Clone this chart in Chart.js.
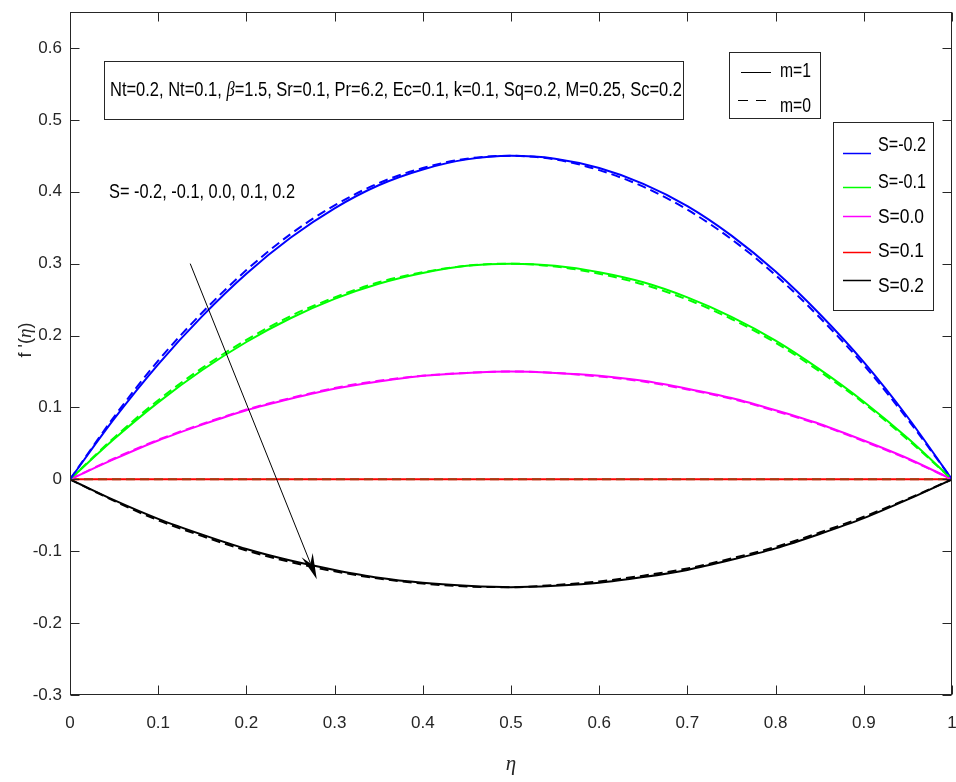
<!DOCTYPE html>
<html>
<head>
<meta charset="utf-8">
<script src="https://cdn.jsdelivr.net/npm/chart.js@4.4.1/dist/chart.umd.min.js"></script>
<style>
  html, body { margin: 0; padding: 0; background: #fff; }
  canvas { display: block; }
</style>
</head>
<body>
<canvas id="chart" width="956" height="782"></canvas>
<script>
// eta grid
const eta = [0, 0.05, 0.1, 0.15, 0.2, 0.25, 0.3, 0.35, 0.4, 0.45, 0.5, 0.55, 0.6, 0.65, 0.7, 0.75, 0.8, 0.85, 0.9, 0.95, 1];

// m = 1 (solid)
const m1_Sm02 = [0, 0.084, 0.160, 0.227, 0.286, 0.336, 0.377, 0.409, 0.431, 0.445, 0.450, 0.446, 0.433, 0.411, 0.380, 0.339, 0.289, 0.230, 0.163, 0.086, 0];
const m1_Sm01 = [0, 0.056, 0.107, 0.152, 0.191, 0.224, 0.251, 0.272, 0.287, 0.297, 0.300, 0.297, 0.288, 0.274, 0.253, 0.226, 0.193, 0.153, 0.108, 0.057, 0];
const m1_S00 = [0, 0.028, 0.054, 0.076, 0.096, 0.112, 0.126, 0.136, 0.144, 0.148, 0.150, 0.148, 0.144, 0.137, 0.126, 0.113, 0.096, 0.077, 0.054, 0.029, 0];
const m1_S01 = [0, 0, 0, 0, 0, 0, 0, 0, 0, 0, 0, 0, 0, 0, 0, 0, 0, 0, 0, 0, 0];
const m1_S02 = [0, -0.029, -0.055, -0.077, -0.097, -0.113, -0.126, -0.137, -0.144, -0.148, -0.150, -0.148, -0.144, -0.136, -0.126, -0.112, -0.096, -0.076, -0.054, -0.028, 0];

// m = 0 (dashed)
const m0_Sm02 = [0, 0.087, 0.165, 0.232, 0.291, 0.341, 0.381, 0.412, 0.433, 0.446, 0.450, 0.445, 0.430, 0.407, 0.375, 0.334, 0.284, 0.225, 0.159, 0.083, 0];
const m0_Sm01 = [0, 0.058, 0.110, 0.155, 0.194, 0.227, 0.253, 0.274, 0.288, 0.297, 0.300, 0.296, 0.286, 0.271, 0.250, 0.223, 0.190, 0.150, 0.106, 0.055, 0];
const m0_S00 = [0, 0.029, 0.055, 0.077, 0.097, 0.113, 0.127, 0.137, 0.144, 0.148, 0.150, 0.148, 0.143, 0.136, 0.125, 0.112, 0.095, 0.076, 0.053, 0.028, 0];
const m0_S01 = [0, 0, 0, 0, 0, 0, 0, 0, 0, 0, 0, 0, 0, 0, 0, 0, 0, 0, 0, 0, 0];
const m0_S02 = [0, -0.030, -0.057, -0.079, -0.099, -0.115, -0.128, -0.138, -0.145, -0.149, -0.150, -0.147, -0.142, -0.134, -0.124, -0.110, -0.094, -0.074, -0.052, -0.027, 0];

const sLabels = ["S=-0.2", "S=-0.1", "S=0.0", "S=0.1", "S=0.2"];
const solidColors = ["#0000ff", "#00ff00", "#ff00ff", "#ff0000", "#000000"];
const dashColors = ["#0000ff", "#00ff00", "#ff00ff", "#a33c10", "#000000"];
const mLabels = ["m=1", "m=0"];

const xTicks = [0, 0.1, 0.2, 0.3, 0.4, 0.5, 0.6, 0.7, 0.8, 0.9, 1];
const yTicks = [-0.3, -0.2, -0.1, 0, 0.1, 0.2, 0.3, 0.4, 0.5, 0.6];

const paramText = ["Nt=0.2, Nt=0.1, ", "\u03B2", "=1.5, Sr=0.1, Pr=6.2, Ec=0.1, k=0.1, Sq=o.2, M=0.25, Sc=0.2"];
const sListText = "S= -0.2, -0.1, 0.0, 0.1, 0.2";
const arrowFrom = { x: 0.1363, y: 0.300 };
const arrowTo = { x: 0.2798, y: -0.139 };

const SANS = '"Liberation Sans", Arial, Helvetica, sans-serif';
const SERIF = '"Liberation Serif", "Times New Roman", serif';
const AXIS = "#262626";

const m1Series = [m1_Sm02, m1_Sm01, m1_S00, m1_S01, m1_S02];
const m0Series = [m0_Sm02, m0_Sm01, m0_S00, m0_S01, m0_S02];

const toPts = (arr) => arr.map((v, i) => ({ x: eta[i], y: v }));

const datasets = [];
m0Series.forEach((s, i) => {
  datasets.push({
    label: sLabels[i] + " m=0",
    data: toPts(s),
    borderColor: dashColors[i],
    borderWidth: 2,
    borderDash: [9, 5],
    pointRadius: 0,
    cubicInterpolationMode: "monotone",
    order: 0,
  });
});
m1Series.forEach((s, i) => {
  datasets.push({
    label: sLabels[i] + " m=1",
    data: toPts(s),
    borderColor: solidColors[i],
    borderWidth: 2,
    pointRadius: 0,
    cubicInterpolationMode: "monotone",
    order: 1,
  });
});

// text with mixed fonts squeezed to a target width
function fitText(ctx, parts, x, y, width) {
  let total = 0;
  parts.forEach((p) => {
    ctx.font = p.font;
    p.w = ctx.measureText(p.t).width;
    total += p.w;
  });
  const k = width ? width / total : 1;
  ctx.save();
  ctx.translate(x, y);
  ctx.scale(k, 1);
  ctx.textAlign = "left";
  ctx.textBaseline = "alphabetic";
  ctx.fillStyle = "#000";
  let cx = 0;
  parts.forEach((p) => {
    ctx.font = p.font;
    ctx.fillText(p.t, cx, 0);
    cx += p.w;
  });
  ctx.restore();
}

function rectBox(ctx, x1, y1, x2, y2) {
  ctx.save();
  ctx.fillStyle = "#fff";
  ctx.fillRect(x1, y1, x2 - x1, y2 - y1);
  ctx.strokeStyle = "#262626";
  ctx.lineWidth = 1;
  ctx.strokeRect(Math.round(x1) + 0.5, Math.round(y1) + 0.5, Math.round(x2 - x1), Math.round(y2 - y1));
  ctx.restore();
}

function seg(ctx, x1, y1, x2, y2, color, dash) {
  ctx.save();
  ctx.strokeStyle = color;
  ctx.lineWidth = 1;
  ctx.setLineDash(dash || []);
  ctx.beginPath();
  ctx.moveTo(x1, y1);
  ctx.lineTo(x2, y2);
  ctx.stroke();
  ctx.restore();
}

const decor = {
  id: "decor",
  afterDraw(chart) {
    const ctx = chart.ctx;
    const a = chart.chartArea;
    const xs = chart.scales.x;
    const ys = chart.scales.y;

    // axes box
    ctx.save();
    ctx.strokeStyle = AXIS;
    ctx.lineWidth = 1;
    const L = Math.round(a.left) + 0.5, R = Math.round(a.right) - 0.5;
    const T = Math.round(a.top) + 0.5, B = Math.round(a.bottom) - 0.5;
    ctx.strokeRect(L, T, R - L, B - T);

    // inward ticks
    const tl = 9;
    ctx.beginPath();
    xTicks.forEach((v) => {
      const px = Math.round(xs.getPixelForValue(v)) + 0.5;
      ctx.moveTo(px, B); ctx.lineTo(px, B - tl);
      ctx.moveTo(px, T); ctx.lineTo(px, T + tl);
    });
    yTicks.forEach((v) => {
      const py = Math.round(ys.getPixelForValue(v)) + 0.5;
      ctx.moveTo(L, py); ctx.lineTo(L + tl, py);
      ctx.moveTo(R, py); ctx.lineTo(R - tl, py);
    });
    ctx.stroke();
    ctx.restore();

    // axis titles
    ctx.save();
    ctx.fillStyle = AXIS;
    ctx.translate(26, 340);
    ctx.rotate(-Math.PI / 2);
    const yParts = [
      { t: "f '(", font: "18px " + SANS },
      { t: "\u03B7", font: "italic 19px " + SERIF },
      { t: ")", font: "18px " + SANS },
    ];
    let tw = 0;
    yParts.forEach((p) => { ctx.font = p.font; p.w = ctx.measureText(p.t).width; tw += p.w; });
    let cx = -tw / 2;
    ctx.textBaseline = "middle";
    yParts.forEach((p) => { ctx.font = p.font; ctx.fillText(p.t, cx, 0); cx += p.w; });
    ctx.restore();

    ctx.save();
    ctx.fillStyle = AXIS;
    ctx.font = "italic 21px " + SERIF;
    ctx.textAlign = "center";
    ctx.textBaseline = "middle";
    ctx.fillText("\u03B7", (a.left + a.right) / 2, 764);
    ctx.restore();

    // parameter text box
    rectBox(ctx, 104, 61, 683, 119);
    fitText(ctx, [
      { t: paramText[0], font: "20px " + SANS },
      { t: paramText[1], font: "italic 20px " + SERIF },
      { t: paramText[2], font: "20px " + SANS },
    ], 110, 96, 572);

    // S list text
    fitText(ctx, [{ t: sListText, font: "21px " + SANS }], 109, 198, 186);

    // arrow
    const ax1 = xs.getPixelForValue(arrowFrom.x), ay1 = ys.getPixelForValue(arrowFrom.y);
    const ax2 = xs.getPixelForValue(arrowTo.x), ay2 = ys.getPixelForValue(arrowTo.y);
    const dx = ax2 - ax1, dy = ay2 - ay1, len = Math.hypot(dx, dy);
    const ux = dx / len, uy = dy / len, nx = -uy, ny = ux;
    const hl = 26, hw = 6, notch = 17;
    seg(ctx, ax1, ay1, ax2 - ux * notch, ay2 - uy * notch, "#000");
    ctx.save();
    ctx.fillStyle = "#000";
    ctx.beginPath();
    ctx.moveTo(ax2, ay2);
    ctx.lineTo(ax2 - ux * hl + nx * hw, ay2 - uy * hl + ny * hw);
    ctx.lineTo(ax2 - ux * notch, ay2 - uy * notch);
    ctx.lineTo(ax2 - ux * hl - nx * hw, ay2 - uy * hl - ny * hw);
    ctx.closePath();
    ctx.fill();
    ctx.restore();

    // m legend
    rectBox(ctx, 729, 52, 820, 118);
    seg(ctx, 741, 72.5, 771, 72.5, "#000");
    seg(ctx, 738, 100.5, 770, 100.5, "#000", [10, 8]);
    fitText(ctx, [{ t: mLabels[0], font: "20px " + SANS }], 780, 77, 31);
    fitText(ctx, [{ t: mLabels[1], font: "20px " + SANS }], 780, 112, 31);

    // S legend
    rectBox(ctx, 833, 122, 933, 310);
    const lineY = [153.5, 187.5, 216.5, 252.5, 280.5];
    const textY = [151, 188, 223, 257, 292];
    sLabels.forEach((lab, i) => {
      ctx.save();
      ctx.strokeStyle = solidColors[i];
      ctx.lineWidth = 1.5;
      ctx.beginPath();
      ctx.moveTo(843, lineY[i]);
      ctx.lineTo(871, lineY[i]);
      ctx.stroke();
      ctx.restore();
      const w = lab.length === 6 ? 48 : 46;
      fitText(ctx, [{ t: lab, font: "20px " + SANS }], 878, textY[i], w);
    });
  },
};

const fmt = (v) => {
  const r = Math.round(v * 100) / 100;
  return r === 0 ? "0" : String(r);
};

new Chart(document.getElementById("chart"), {
  type: "line",
  data: { datasets },
  options: {
    responsive: false,
    animation: false,
    devicePixelRatio: 1,
    layout: { padding: { top: 12, right: 4, left: 0, bottom: 0 } },
    plugins: { legend: { display: false }, tooltip: { enabled: false } },
    scales: {
      x: {
        type: "linear",
        min: 0,
        max: 1,
        grid: { display: false },
        border: { display: false },
        afterBuildTicks: (s) => { s.ticks = xTicks.map((v) => ({ value: v })); },
        afterFit: (s) => { s.height = 87; s.paddingLeft = 0; s.paddingRight = 0; },
        ticks: {
          autoSkip: false,
          maxRotation: 0,
          padding: 10,
          color: AXIS,
          font: { family: SANS, size: 17 },
          callback: fmt,
        },
      },
      y: {
        type: "linear",
        min: -0.3,
        max: 0.65,
        grid: { display: false },
        border: { display: false },
        afterBuildTicks: (s) => { s.ticks = yTicks.map((v) => ({ value: v })); },
        afterFit: (s) => { s.width = 70; s.paddingTop = 0; s.paddingBottom = 0; },
        ticks: {
          autoSkip: false,
          padding: 0,
          color: AXIS,
          font: { family: SANS, size: 17 },
          callback: fmt,
        },
      },
    },
  },
  plugins: [decor],
});
</script>
</body>
</html>
